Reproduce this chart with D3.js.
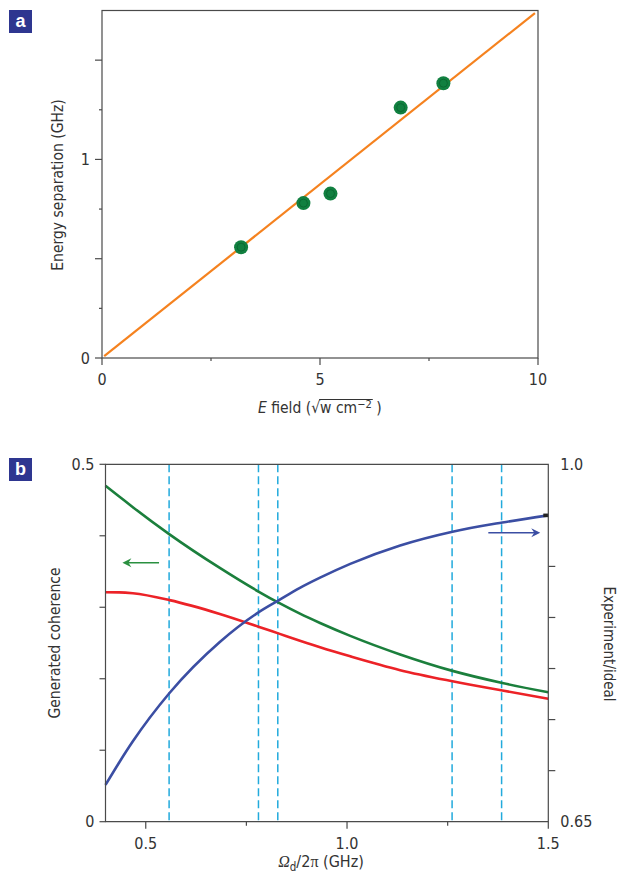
<!DOCTYPE html>
<html>
<head>
<meta charset="utf-8">
<script src="https://cdn.jsdelivr.net/npm/d3@7"></script>
<style>
  body { margin: 0; background: #fff; }
  text { font-family: "Liberation Sans Narrow", "DejaVu Sans Condensed", "Roboto", sans-serif; fill: #333; }
</style>
</head>
<body>
<div id="CHART"></div>
<script>
const WIDTH = 618;
const HEIGHT = 884;

// panel a data
const fieldX = [3.19, 4.62, 5.24, 6.85, 7.83];
const energyY = [0.558, 0.780, 0.828, 1.261, 1.384];
const fitX = [0.05, 9.93];
const fitY = [0.009, 1.737];

// panel b data
const omegaX = [0.40, 0.434, 0.468, 0.559, 0.684, 0.780, 0.831, 0.883, 0.933, 1.008, 1.132, 1.262, 1.386, 1.50];
const greenY = [0.470, 0.455, 0.440, 0.402, 0.355, 0.322, 0.306, 0.291, 0.278, 0.260, 0.234, 0.211, 0.194, 0.181];
const redY   = [0.3210, 0.3208, 0.3195, 0.3100, 0.2906, 0.2728, 0.2631, 0.2532, 0.2440, 0.2313, 0.2120, 0.1965, 0.1835, 0.1720];
const blueY  = [0.686, 0.708, 0.7287, 0.776, 0.826, 0.855, 0.867, 0.879, 0.889, 0.9025, 0.9205, 0.934, 0.943, 0.950];
const dashedX = energyY;

const A_XTICKS_MAJOR = [0, 5, 10];
const A_XTICKS_MINOR = [2.5, 7.5];
const A_YTICKS_MAJOR = [0, 0.5, 1, 1.5];
const A_YTICKS_MINOR = [0.25, 0.75, 1.25];
const A_YLABELS = [0, 1];

const B_XTICKS_MAJOR = [0.5, 1.0, 1.5];
const B_XTICKS_MINOR = [0.75, 1.25];
const B_YTICKS = [0, 0.1, 0.2, 0.3, 0.4, 0.5];
const B_YLABELS = [0, 0.5];
const B_Y2TICKS = [0.7, 0.75, 0.8, 0.85, 0.9];
const B_Y2LABELS = ["0.65", "1.0"];

const AXIS_COLOR = "#4a4a4a";
const LABEL_BLUE = "#2e3690";

const svg = d3.select("#CHART").append("svg")
   .attr("width", WIDTH)
   .attr("height", HEIGHT);

svg.append("rect").attr("width", WIDTH).attr("height", HEIGHT).attr("fill", "#fff");

function panelLabel(y, letter) {
   svg.append("rect")
      .attr("x", 9).attr("y", y)
      .attr("width", 23).attr("height", 23)
      .attr("fill", LABEL_BLUE);
   svg.append("text")
      .attr("x", 20.5).attr("y", y + 17)
      .attr("text-anchor", "middle")
      .style("font-family", "Liberation Sans, Arial, sans-serif")
      .style("font-weight", "bold")
      .style("font-size", "18px")
      .style("fill", "#fff")
      .text(letter);
}

function ticks(g, vals, scale, orient, len) {
   vals.forEach(v => {
      const p = scale(v);
      const l = g.append("line").attr("stroke", AXIS_COLOR).attr("stroke-width", 1.2);
      if (orient === "bottom") l.attr("x1", p).attr("x2", p).attr("y1", 0).attr("y2", len);
      if (orient === "left") l.attr("y1", p).attr("y2", p).attr("x1", 0).attr("x2", -len);
      if (orient === "right") l.attr("y1", p).attr("y2", p).attr("x1", 0).attr("x2", len);
   });
}

// ---------------- Panel a ----------------
const ax = d3.scaleLinear().domain([0, 10]).range([102, 538]);
const ay = d3.scaleLinear().domain([0, 1.75]).range([358, 10.5]);

panelLabel(10, "a");

svg.append("rect")
   .attr("x", ax(0)).attr("y", ay(1.75))
   .attr("width", ax(10) - ax(0)).attr("height", ay(0) - ay(1.75))
   .attr("fill", "none").attr("stroke", AXIS_COLOR).attr("stroke-width", 1.2);

const aXg = svg.append("g").attr("transform", "translate(0," + ay(0) + ")");
ticks(aXg, A_XTICKS_MAJOR, ax, "bottom", 7);
ticks(aXg, A_XTICKS_MINOR, ax, "bottom", 3);
aXg.selectAll("text.tl").data(A_XTICKS_MAJOR).enter().append("text")
   .attr("x", d => ax(d)).attr("y", 27)
   .attr("text-anchor", "middle")
   .style("font-size", "16px")
   .text(d => d);

const aYg = svg.append("g").attr("transform", "translate(" + ax(0) + ",0)");
ticks(aYg, A_YTICKS_MAJOR, ay, "left", 7);
ticks(aYg, A_YTICKS_MINOR, ay, "left", 3);
aYg.selectAll("text.tl").data(A_YLABELS).enter().append("text")
   .attr("x", -12).attr("y", d => ay(d) + 5.5)
   .attr("text-anchor", "end")
   .style("font-size", "16px")
   .text(d => d);

svg.append("text")
   .attr("transform", "translate(63,185) rotate(-90)")
   .attr("text-anchor", "middle")
   .style("font-size", "15.5px")
   .text("Energy separation (GHz)");

// x title with square root
const aTitle = svg.append("text")
   .attr("x", 258).attr("y", 413)
   .style("font-size", "15.5px");
aTitle.append("tspan").style("font-style", "italic").text("E");
aTitle.append("tspan").text(" field (\u221A");
aTitle.append("tspan").text("w cm");
aTitle.append("tspan").attr("dy", -5).style("font-size", "11px").text("\u22122");
aTitle.append("tspan").attr("dy", 5).text(" )");
{
   const node = aTitle.node();
   const full = node.textContent;
   const s = full.indexOf("w cm");
   const e = full.indexOf("\u22122") + 1;
   const x1 = node.getStartPositionOfChar(s).x - 1;
   const x2 = node.getEndPositionOfChar(e).x + 1;
   svg.append("line")
      .attr("x1", x1).attr("x2", x2)
      .attr("y1", 399.5).attr("y2", 399.5)
      .attr("stroke", "#333").attr("stroke-width", 1);
}

// fit line
svg.append("path")
   .datum(d3.range(fitX.length))
   .attr("d", d3.line().x(i => ax(fitX[i])).y(i => ay(fitY[i])))
   .attr("fill", "none")
   .attr("stroke", "#f5821f")
   .attr("stroke-width", 2.2);

// points
const pts = svg.append("g");
pts.selectAll("circle.dot").data(d3.range(fieldX.length)).enter().append("circle")
   .attr("cx", i => ax(fieldX[i])).attr("cy", i => ay(energyY[i]))
   .attr("r", 7)
   .attr("fill", "#118040");
pts.selectAll("circle.ring").data(d3.range(fieldX.length)).enter().append("circle")
   .attr("cx", i => ax(fieldX[i])).attr("cy", i => ay(energyY[i]))
   .attr("r", 4)
   .attr("fill", "none")
   .attr("stroke", "#0a6a32")
   .attr("stroke-width", 1);

// ---------------- Panel b ----------------
const bx = d3.scaleLinear().domain([0.4, 1.5]).range([105.5, 548.3]);
const by = d3.scaleLinear().domain([0, 0.5]).range([821.7, 464.3]);
const by2 = d3.scaleLinear().domain([0.65, 1.0]).range([821.7, 464.3]);

panelLabel(458, "b");

// dashed verticals
svg.selectAll("line.dash").data(dashedX).enter().append("line")
   .attr("x1", d => bx(d)).attr("x2", d => bx(d))
   .attr("y1", by(0.5)).attr("y2", by(0))
   .attr("stroke", "#22aadc")
   .attr("stroke-width", 1.5)
   .attr("stroke-dasharray", "8,4");

function curve(ys, scaleY, color) {
   svg.append("path")
      .datum(d3.range(omegaX.length))
      .attr("d", d3.line().x(i => bx(omegaX[i])).y(i => scaleY(ys[i])).curve(d3.curveMonotoneX))
      .attr("fill", "none")
      .attr("stroke", color)
      .attr("stroke-width", 2.6);
}
curve(greenY, by, "#1b7f3c");
curve(redY, by, "#ec2227");
curve(blueY, by2, "#3b4ea3");

// small black end mark on blue curve
const lastI = omegaX.length - 1;
svg.append("rect")
   .attr("x", bx(omegaX[lastI]) - 5).attr("y", by2(blueY[lastI]) - 1.8)
   .attr("width", 5).attr("height", 3.6)
   .attr("fill", "#222");

// frame
svg.append("path")
   .attr("d", "M" + bx(0.4) + "," + by(0) + "V" + by(0.5) + "H" + bx(1.5) + "V" + by(0) + "Z")
   .attr("fill", "none").attr("stroke", AXIS_COLOR).attr("stroke-width", 1.2);

const bXg = svg.append("g").attr("transform", "translate(0," + by(0) + ")");
ticks(bXg, B_XTICKS_MAJOR, bx, "bottom", 7);
ticks(bXg, B_XTICKS_MINOR, bx, "bottom", 4);
bXg.selectAll("text.tl").data(B_XTICKS_MAJOR).enter().append("text")
   .attr("x", d => bx(d)).attr("y", 27)
   .attr("text-anchor", "middle")
   .style("font-size", "16px")
   .text(d => d3.format(".1f")(d));

const bYg = svg.append("g").attr("transform", "translate(" + bx(0.4) + ",0)");
ticks(bYg, B_YTICKS, by, "left", 6);
bYg.selectAll("text.tl").data(B_YLABELS).enter().append("text")
   .attr("x", -11).attr("y", d => by(d) + 5.5)
   .attr("text-anchor", "end")
   .style("font-size", "16px")
   .text(d => d);

const bY2g = svg.append("g").attr("transform", "translate(" + bx(1.5) + ",0)");
ticks(bY2g, B_Y2TICKS, by2, "right", 7);
bY2g.selectAll("text.tl").data(B_Y2LABELS).enter().append("text")
   .attr("x", 12).attr("y", d => by2(+d) + 5.5)
   .attr("text-anchor", "start")
   .style("font-size", "16px")
   .text(d => d);

svg.append("text")
   .attr("transform", "translate(60,643) rotate(-90)")
   .attr("text-anchor", "middle")
   .style("font-size", "15.5px")
   .text("Generated coherence");

svg.append("text")
   .attr("transform", "translate(604,644) rotate(90)")
   .attr("text-anchor", "middle")
   .style("font-size", "15px")
   .text("Experiment/ideal");

const bTitle = svg.append("text")
   .attr("x", 321).attr("y", 867)
   .attr("text-anchor", "middle")
   .style("font-size", "16px");
bTitle.append("tspan").style("font-family", "Liberation Serif, serif").style("font-style", "italic").text("\u03A9");
bTitle.append("tspan").attr("dy", 4).style("font-size", "11.5px").text("d");
bTitle.append("tspan").attr("dy", -4).text("/2");
bTitle.append("tspan").style("font-family", "Liberation Serif, serif").text("\u03C0");
bTitle.append("tspan").text(" (GHz)");

// arrows
function arrow(x1, x2, yv, scaleY, color) {
   const y = scaleY(yv);
   const a = bx(x1), b = bx(x2);
   const dir = b > a ? 1 : -1;
   svg.append("line")
      .attr("x1", a).attr("x2", b - dir * 3)
      .attr("y1", y).attr("y2", y)
      .attr("stroke", color).attr("stroke-width", 1.4);
   svg.append("path")
      .attr("d", "M" + b + "," + y +
                 "L" + (b - dir * 9) + "," + (y - 4.5) +
                 "L" + (b - dir * 6) + "," + y +
                 "L" + (b - dir * 9) + "," + (y + 4.5) + "Z")
      .attr("fill", color);
}
arrow(0.533, 0.442, 0.3623, by, "#2a9040");
arrow(1.351, 1.48, 0.933, by2, "#3b4ea3");
</script>
</body>
</html>
